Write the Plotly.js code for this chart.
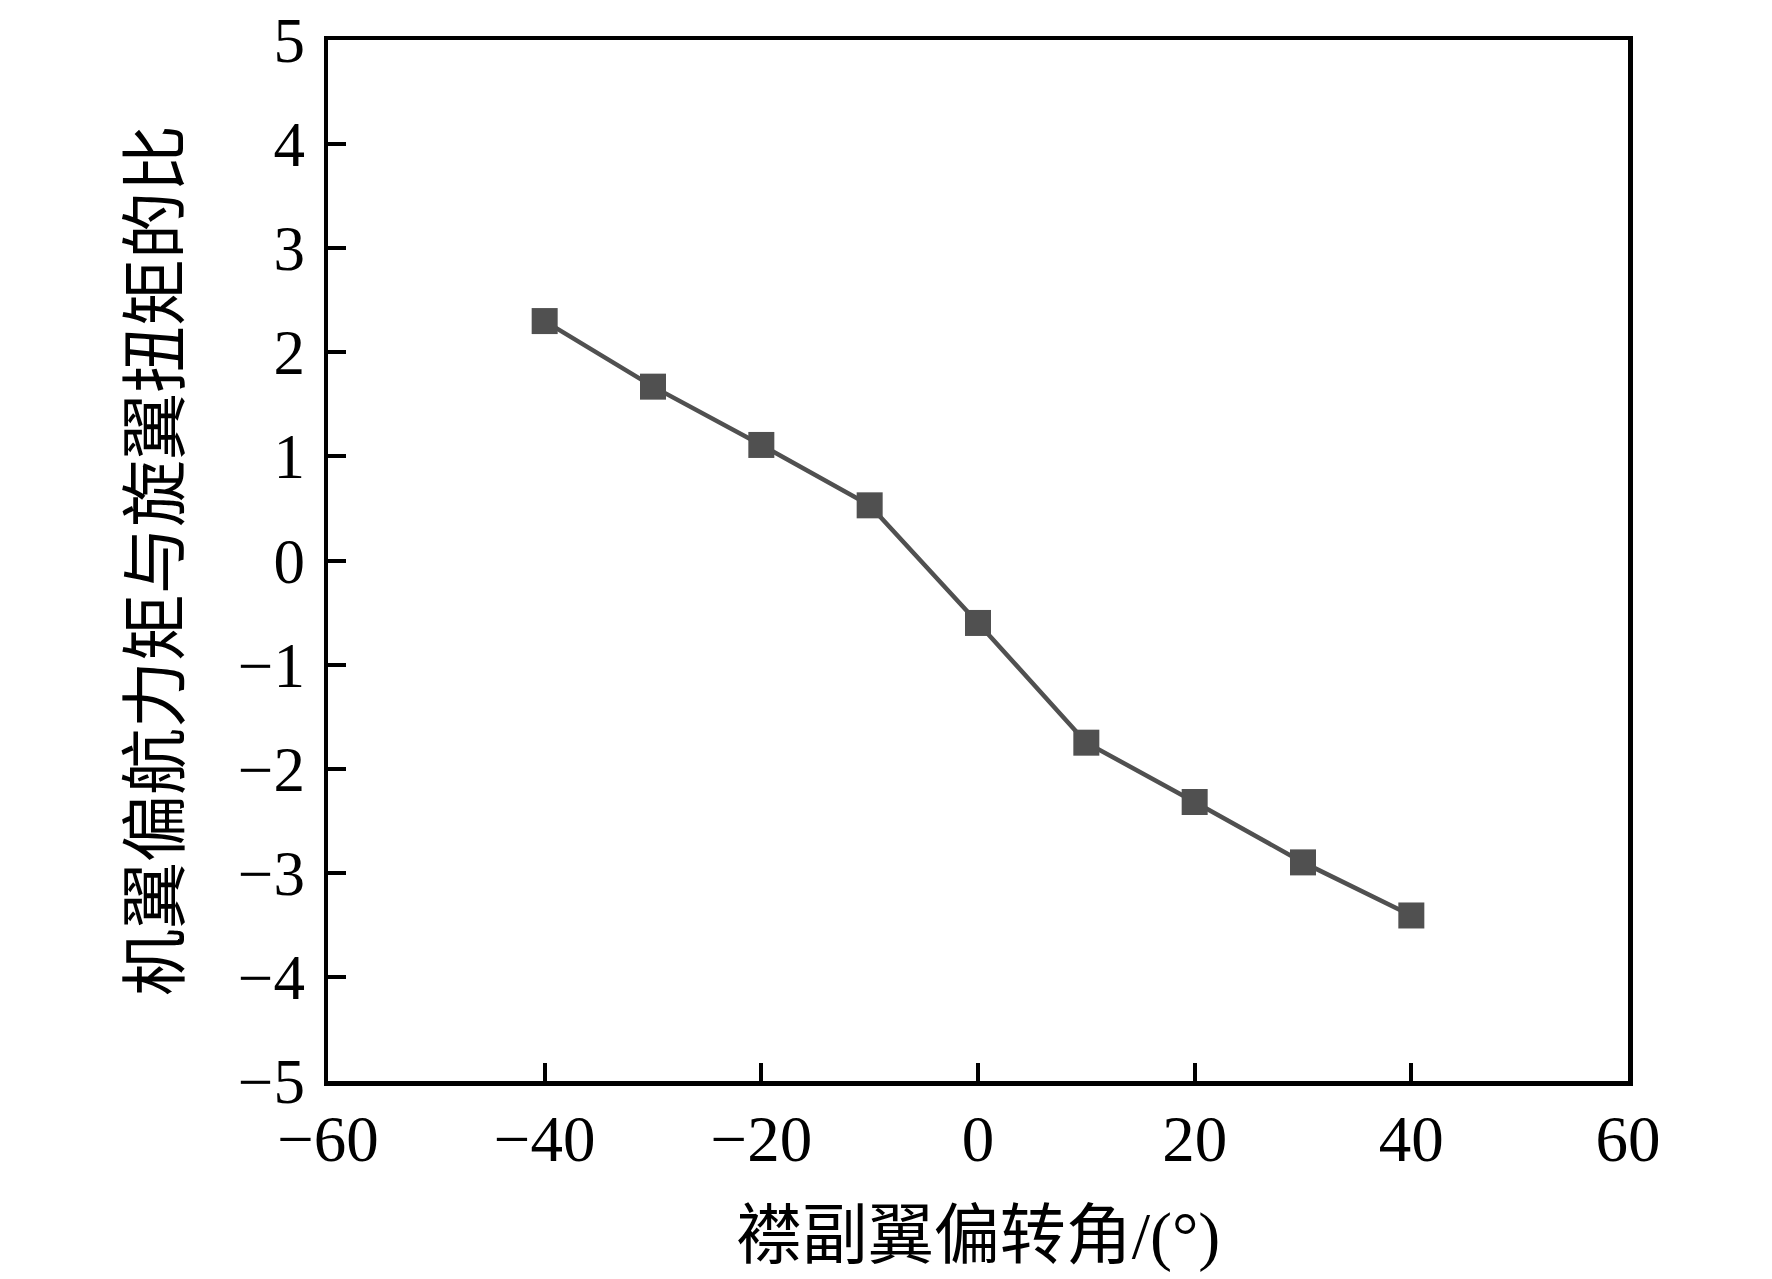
<!DOCTYPE html>
<html>
<head>
<meta charset="utf-8">
<script src="https://cdn.plot.ly/plotly-3.0.1.min.js"></script>
<style>
  html, body { margin: 0; padding: 0; background: #fff; }
  #plot { width: 1772px; height: 1279px; }
</style>
</head>
<body>
<div id="plot"></div>
<script>
// deflection angle of the flaperon (deg)
var angles = [-40, -30, -20, -10, 0, 10, 20, 30, 40];
// ratio of wing yaw moment to rotor torque
var ratio = [2.30, 1.67, 1.11, 0.53, -0.60, -1.75, -2.32, -2.90, -3.41];

var xTicks = [-60, -40, -20, 0, 20, 40, 60];
var yTicks = [-5, -4, -3, -2, -1, 0, 1, 2, 3, 4, 5];

var xTitle = '襟副翼偏转角/(°)';
var yTitle = '机翼偏航力矩与旋翼扭矩的比';

var serif = '"Liberation Serif", "Times New Roman", serif';
var cjk = '"Liberation Serif", "Noto Sans CJK SC", serif';

var trace = {
  x: angles,
  y: ratio,
  mode: 'lines+markers',
  type: 'scatter',
  line: { color: '#505050', width: 4.5 },
  marker: { symbol: 'square', size: 26, color: '#505050' },
  showlegend: false,
  cliponaxis: false
};

var layout = {
  width: 1772,
  height: 1279,
  margin: { l: 328, r: 144, t: 40, b: 198 },
  paper_bgcolor: '#fff',
  plot_bgcolor: '#fff',
  xaxis: {
    range: [-60, 60],
    tickvals: xTicks,
    ticks: 'inside',
    ticklen: 18,
    tickwidth: 4,
    tickcolor: '#000',
    showline: true,
    linewidth: 4.5,
    linecolor: '#000',
    mirror: true,
    showgrid: false,
    zeroline: false,
    ticklabelstandoff: -3,
    ticklabeloverflow: 'allow',
    tickfont: { family: serif, size: 65, color: '#000' },
    title: { text: xTitle, font: { family: cjk, size: 66, color: '#000' }, standoff: 40 }
  },
  yaxis: {
    range: [-5, 5],
    tickvals: yTicks,
    ticks: 'inside',
    ticklen: 18,
    tickwidth: 4,
    tickcolor: '#000',
    showline: true,
    linewidth: 4.5,
    linecolor: '#000',
    mirror: true,
    showgrid: false,
    zeroline: false,
    ticklabelstandoff: 6,
    ticklabeloverflow: 'allow',
    tickfont: { family: serif, size: 63, color: '#000' },
    title: { text: yTitle, font: { family: cjk, size: 67, color: '#000' }, standoff: 38 }
  }
};

Plotly.newPlot('plot', [trace], layout, { staticPlot: true, displayModeBar: false });
</script>
</body>
</html>
